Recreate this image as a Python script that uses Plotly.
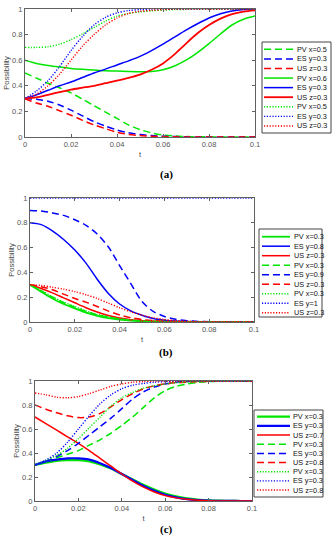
import plotly.graph_objects as go

# ---------------- data ----------------
t = [0.000, 0.005, 0.010, 0.015, 0.020, 0.025, 0.030, 0.035, 0.040, 0.045, 0.050,
     0.055, 0.060, 0.065, 0.070, 0.075, 0.080, 0.085, 0.090, 0.095, 0.100]

# Panel (a)
a_pv_dash = [0.50, 0.46, 0.42, 0.385, 0.345, 0.295, 0.245, 0.195, 0.145, 0.095, 0.058,
             0.032, 0.016, 0.008, 0.004, 0.002, 0.001, 0.0, 0.0, 0.0, 0.0]
a_es_dash = [0.30, 0.295, 0.28, 0.25, 0.21, 0.165, 0.12, 0.085, 0.055, 0.033, 0.02,
             0.011, 0.006, 0.003, 0.001, 0.0, 0.0, 0.0, 0.0, 0.0, 0.0]
a_us_dash = [0.30, 0.265, 0.24, 0.205, 0.17, 0.13, 0.095, 0.065, 0.037, 0.02, 0.011,
             0.006, 0.003, 0.001, 0.0, 0.0, 0.0, 0.0, 0.0, 0.0, 0.0]
a_pv_solid = [0.60, 0.575, 0.558, 0.546, 0.536, 0.529, 0.523, 0.518, 0.515, 0.512, 0.51,
              0.512, 0.525, 0.555, 0.60, 0.66, 0.73, 0.805, 0.875, 0.92, 0.945]
a_es_solid = [0.30, 0.33, 0.365, 0.40, 0.43, 0.465, 0.50, 0.53, 0.563, 0.595, 0.63,
              0.675, 0.725, 0.78, 0.835, 0.885, 0.93, 0.963, 0.985, 0.996, 1.0]
a_us_solid = [0.30, 0.31, 0.33, 0.35, 0.37, 0.385, 0.40, 0.42, 0.44, 0.462, 0.488,
              0.525, 0.575, 0.645, 0.73, 0.81, 0.875, 0.925, 0.96, 0.98, 0.99]
a_pv_dot = [0.70, 0.70, 0.705, 0.725, 0.76, 0.805, 0.855, 0.905, 0.945, 0.965, 0.978,
            0.986, 0.991, 0.995, 0.997, 1.0, 1.0, 1.0, 1.0, 1.0, 1.0]
a_es_dot = [0.30, 0.36, 0.44, 0.55, 0.675, 0.785, 0.875, 0.935, 0.97, 0.988, 0.995,
            1.0, 1.0, 1.0, 1.0, 1.0, 1.0, 1.0, 1.0, 1.0, 1.0]
a_us_dot = [0.30, 0.335, 0.40, 0.49, 0.60, 0.71, 0.80, 0.875, 0.93, 0.965, 0.982,
            0.99, 0.995, 1.0, 1.0, 1.0, 1.0, 1.0, 1.0, 1.0, 1.0]
a_labels = ["PV x=0.5", "ES y=0.3", "US z=0.3",
            "PV x=0.6", "ES y=0.3", "US z=0.3",
            "PV x=0.5", "ES y=0.3", "US z=0.3"]

# Panel (b)
b_pv_solid = [0.30, 0.245, 0.19, 0.145, 0.11, 0.075, 0.05, 0.032, 0.02, 0.012, 0.007,
              0.004, 0.002, 0.001, 0.0, 0.0, 0.0, 0.0, 0.0, 0.0, 0.0]
b_es_solid = [0.80, 0.785, 0.735, 0.665, 0.58, 0.475, 0.345, 0.23, 0.145, 0.09, 0.055,
              0.028, 0.015, 0.008, 0.004, 0.002, 0.001, 0.0, 0.0, 0.0, 0.0]
b_us_solid = [0.30, 0.27, 0.235, 0.195, 0.155, 0.115, 0.08, 0.052, 0.032, 0.019, 0.011,
              0.006, 0.003, 0.002, 0.001, 0.0, 0.0, 0.0, 0.0, 0.0, 0.0]
b_pv_dash = [0.30, 0.25, 0.20, 0.155, 0.12, 0.085, 0.058, 0.038, 0.024, 0.014, 0.008,
             0.004, 0.002, 0.001, 0.0, 0.0, 0.0, 0.0, 0.0, 0.0, 0.0]
b_es_dash = [0.90, 0.895, 0.88, 0.86, 0.825, 0.78, 0.71, 0.605, 0.455, 0.31, 0.165,
             0.085, 0.045, 0.022, 0.011, 0.005, 0.002, 0.001, 0.0, 0.0, 0.0]
b_us_dash = [0.30, 0.285, 0.26, 0.225, 0.19, 0.16, 0.125, 0.088, 0.057, 0.035, 0.02,
             0.011, 0.006, 0.003, 0.001, 0.0, 0.0, 0.0, 0.0, 0.0, 0.0]
b_pv_dot = [0.30, 0.255, 0.205, 0.16, 0.125, 0.09, 0.062, 0.042, 0.027, 0.016, 0.009,
            0.005, 0.003, 0.001, 0.0, 0.0, 0.0, 0.0, 0.0, 0.0, 0.0]
b_es_dot = [1.0, 1.0, 1.0, 1.0, 1.0, 1.0, 1.0, 1.0, 1.0, 1.0, 1.0,
            1.0, 1.0, 1.0, 1.0, 1.0, 1.0, 1.0, 1.0, 1.0, 1.0]
b_us_dot = [0.30, 0.295, 0.28, 0.265, 0.245, 0.22, 0.19, 0.152, 0.115, 0.082, 0.055,
            0.034, 0.02, 0.011, 0.006, 0.003, 0.001, 0.0, 0.0, 0.0, 0.0]
b_labels = ["PV x=0.3", "ES y=0.8", "US z=0.3",
            "PV x=0.3", "ES y=0.9", "US z=0.3",
            "PV x=0.3", "ES y=1", "US z=0.3"]

# Panel (c)
c_pv_solid = [0.30, 0.32, 0.335, 0.34, 0.34, 0.33, 0.305, 0.27, 0.225, 0.18, 0.135,
              0.095, 0.062, 0.038, 0.022, 0.012, 0.006, 0.003, 0.001, 0.0, 0.0]
c_es_solid = [0.30, 0.33, 0.345, 0.355, 0.355, 0.345, 0.315, 0.275, 0.225, 0.175, 0.125,
              0.085, 0.052, 0.03, 0.016, 0.008, 0.004, 0.002, 0.001, 0.0, 0.0]
c_us_solid = [0.70, 0.645, 0.59, 0.535, 0.48, 0.42, 0.355, 0.29, 0.225, 0.165, 0.115,
              0.075, 0.045, 0.026, 0.014, 0.007, 0.003, 0.001, 0.0, 0.0, 0.0]
c_pv_dash = [0.30, 0.33, 0.36, 0.39, 0.42, 0.465, 0.51, 0.565, 0.63, 0.70, 0.78,
             0.86, 0.92, 0.955, 0.975, 0.988, 0.995, 0.998, 1.0, 1.0, 1.0]
c_es_dash = [0.30, 0.33, 0.37, 0.42, 0.48, 0.55, 0.62, 0.69, 0.77, 0.85, 0.91,
             0.95, 0.975, 0.99, 0.995, 1.0, 1.0, 1.0, 1.0, 1.0, 1.0]
c_us_dash = [0.80, 0.765, 0.735, 0.71, 0.695, 0.70, 0.73, 0.785, 0.845, 0.895, 0.935,
             0.96, 0.975, 0.985, 0.99, 0.995, 0.997, 1.0, 1.0, 1.0, 1.0]
c_pv_dot = [0.30, 0.34, 0.38, 0.44, 0.52, 0.61, 0.70, 0.79, 0.86, 0.905, 0.94,
            0.96, 0.975, 0.985, 0.992, 0.996, 1.0, 1.0, 1.0, 1.0, 1.0]
c_es_dot = [0.30, 0.34, 0.40, 0.49, 0.60, 0.71, 0.81, 0.885, 0.935, 0.965, 0.98,
            0.99, 0.995, 1.0, 1.0, 1.0, 1.0, 1.0, 1.0, 1.0, 1.0]
c_us_dot = [0.90, 0.885, 0.865, 0.86, 0.87, 0.895, 0.925, 0.955, 0.975, 0.99, 0.995,
            1.0, 1.0, 1.0, 1.0, 1.0, 1.0, 1.0, 1.0, 1.0, 1.0]
c_labels = ["PV x=0.3", "ES y=0.3", "US z=0.7",
            "PV x=0.3", "ES y=0.3", "US z=0.8",
            "PV x=0.3", "ES y=0.3", "US z=0.8"]

x_ticks = [0, 0.02, 0.04, 0.06, 0.08, 0.1]
x_tick_text = ["0", "0.02", "0.04", "0.06", "0.08", "0.1"]
y_ticks = [0, 0.2, 0.4, 0.6, 0.8, 1]
y_tick_text = ["0", "0.2", "0.4", "0.6", "0.8", "1"]
panel_names = ["(a)", "(b)", "(c)"]
x_title = "t"
y_title = "Possibility"

# ---------------- styling ----------------
W, H = 333, 550
GREEN, BLUE, RED = "#00e600", "#0000ff", "#ff0000"
DASH = "7px,4px"
DOT = "1.2px,1.6px"
FONT = "Liberation Sans, Arial"

panels = [
    dict(series=[a_pv_dash, a_es_dash, a_us_dash, a_pv_solid, a_es_solid, a_us_solid,
                 a_pv_dot, a_es_dot, a_us_dot],
         labels=a_labels,
         styles=["dash"] * 3 + ["solid"] * 3 + ["dot"] * 3,
         widths=[1.5] * 3 + [1.5, 1.5, 1.8] + [1.4] * 3,
         plot=(25, 255, 9, 137), box=(262, 331, 42, 133),
         row0=49.3, drow=9.58, samp=(264, 293), tx=295, lab=(166, 175)),
    dict(series=[b_pv_solid, b_es_solid, b_us_solid, b_pv_dash, b_es_dash, b_us_dash,
                 b_pv_dot, b_es_dot, b_us_dot],
         labels=b_labels,
         styles=["solid"] * 3 + ["dash"] * 3 + ["dot"] * 3,
         widths=[1.8, 1.5, 1.5] + [1.5] * 3 + [1.4] * 3,
         plot=(30, 254, 198, 322), box=(259, 322, 229, 317),
         row0=236.7, drow=9.5, samp=(262, 290), tx=292, lab=(166, 352)),
    dict(series=[c_pv_solid, c_es_solid, c_us_solid, c_pv_dash, c_es_dash, c_us_dash,
                 c_pv_dot, c_es_dot, c_us_dot],
         labels=c_labels,
         styles=["solid"] * 3 + ["dash"] * 3 + ["dot"] * 3,
         widths=[2.2, 2.2, 1.5] + [1.5] * 3 + [1.4] * 3,
         plot=(35, 252, 381, 501), box=(254, 323, 410, 497),
         row0=416.7, drow=9.17, samp=(257, 290), tx=291, lab=(166, 529)),
]
colors = [GREEN, BLUE, RED] * 3
dash_map = {"solid": "solid", "dash": DASH, "dot": DOT}


def px(x):
    return x / W


def py(y):
    return 1 - y / H


fig = go.Figure()
shapes, annotations = [], []
layout = {}

for i, p in enumerate(panels):
    sfx = "" if i == 0 else str(i + 1)
    xa, ya = "x" + sfx, "y" + sfx
    for vals, lab, sty, w, col in zip(p["series"], p["labels"], p["styles"], p["widths"], colors):
        fig.add_trace(go.Scatter(
            x=t, y=vals, mode="lines", name=lab, showlegend=False,
            line=dict(color=col, width=w, dash=dash_map[sty], shape="spline", smoothing=0.8),
            xaxis=xa, yaxis=ya, hoverinfo="skip"))
    x0, x1, y0, y1 = p["plot"]
    axis_common = dict(showline=True, linecolor="#606060", linewidth=1, mirror="ticks",
                       ticks="inside", ticklen=3, tickwidth=1, tickcolor="#606060",
                       showgrid=False, zeroline=False,
                       tickfont=dict(family=FONT, size=7.5, color="#555555"),
                       automargin=False)
    layout["xaxis" + sfx] = dict(axis_common, domain=[px(x0), px(x1)], range=[0, 0.1],
                                 anchor=ya, tickvals=x_ticks, ticktext=x_tick_text,
                                 title=dict(text=x_title, standoff=3,
                                            font=dict(family=FONT, size=7.5, color="#444444")))
    layout["yaxis" + sfx] = dict(axis_common, domain=[py(y1), py(y0)], range=[0, 1],
                                 anchor=xa, tickvals=y_ticks, ticktext=y_tick_text,
                                 title=dict(text=y_title, standoff=1,
                                            font=dict(family=FONT, size=7.5, color="#444444")))
    # legend box
    bx0, bx1, by0, by1 = p["box"]
    shapes.append(dict(type="rect", xref="paper", yref="paper",
                       x0=px(bx0), x1=px(bx1), y0=py(by1), y1=py(by0),
                       line=dict(color="#444444", width=1), fillcolor="white"))
    for k, (lab, sty, w, col) in enumerate(zip(p["labels"], p["styles"], p["widths"], colors)):
        ry = p["row0"] + k * p["drow"]
        sx0, sx1 = p["samp"]
        shapes.append(dict(type="line", xref="paper", yref="paper",
                           x0=px(sx0), x1=px(sx1), y0=py(ry), y1=py(ry),
                           line=dict(color=col, width=w, dash=dash_map[sty])))
        annotations.append(dict(xref="paper", yref="paper", x=px(p["tx"]), y=py(ry),
                                xanchor="left", yanchor="middle", showarrow=False,
                                text=lab, font=dict(family=FONT, size=7.3, color="#111111")))
    lx, ly = p["lab"]
    annotations.append(dict(xref="paper", yref="paper", x=px(lx), y=py(ly),
                            xanchor="center", yanchor="middle", showarrow=False,
                            text="<b>" + panel_names[i] + "</b>",
                            font=dict(family="Liberation Serif, Times New Roman", size=11,
                                      color="#000000")))

fig.update_layout(
    width=W, height=H, autosize=False,
    margin=dict(l=0, r=0, t=0, b=0, pad=0),
    paper_bgcolor="white", plot_bgcolor="white",
    shapes=shapes, annotations=annotations, showlegend=False,
    **layout)

fig.write_html("out.html", config={"displayModeBar": False},
               post_script="document.body.style.margin='0';document.body.style.overflow='hidden';")
